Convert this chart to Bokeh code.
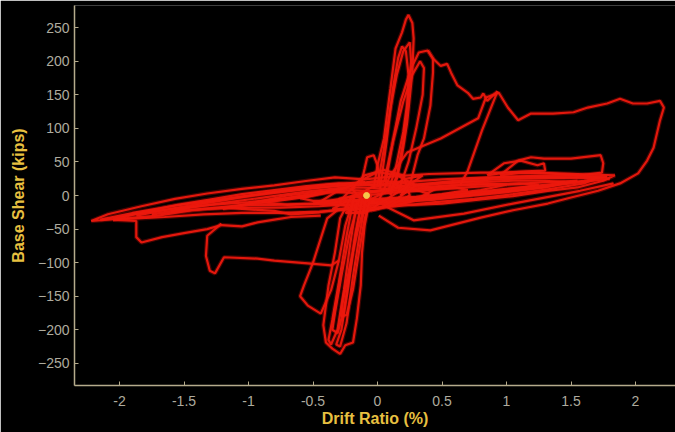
from bokeh.plotting import figure
from bokeh.models import Range1d, FixedTicker, ColumnDataSource
from bokeh.embed import file_html
from bokeh.resources import INLINE

# Hysteresis record: drift ratio (%) vs base shear (kips), one list pair per cycle.

# long low-force cycles forming the horizontal band
band_a_x = [-2.22, -2.09, -1.96, -1.83, -1.57, -1.32, -1.05, -0.80, -0.54, -0.33, -0.10, 0.10, 0.40, 0.80, 1.20, 1.55, 1.84,
            1.75, 1.55, 1.32, 1.05, 0.80, 0.50, 0.28, 0.05, -0.20, -0.45, -0.67, -0.80, -1.05, -1.19, -1.44, -1.70, -1.96, -2.22]
band_a_y = [-38, -28, -22, -16, -5, 3, 10, 15, 22, 27, 24, 28, 32, 34, 34, 32, 30,
            22, 12, 7, -1, -6, -12, -14, -12, -18, -25, -28, -23, -20, -18, -22, -30, -34, -38]

band_b_x = [-2.05, -1.80, -1.55, -1.30, -1.05, -0.80, -0.55, -0.30, -0.05, 0.20, 0.50, 0.85, 1.20, 1.50, 1.70,
            1.60, 1.35, 1.05, 0.75, 0.45, 0.15, -0.15, -0.45, -0.75, -1.05, -1.35, -1.65, -2.05]
band_b_y = [-36, -24, -14, -6, 2, 8, 14, 18, 16, 20, 24, 27, 28, 27, 26,
            18, 10, 2, -5, -10, -16, -20, -24, -26, -26, -28, -32, -36]

band_c_x = [-1.60, -1.35, -1.10, -0.85, -0.60, -0.35, -0.10, 0.15, 0.45, 0.75, 1.05, 1.30, 1.45,
            1.30, 1.05, 0.75, 0.45, 0.15, -0.15, -0.45, -0.75, -1.05, -1.35, -1.60]
band_c_y = [-24, -12, -4, 4, 10, 14, 16, 14, 18, 20, 22, 22, 20,
            12, 6, 0, -6, -10, -12, -16, -18, -18, -20, -24]

band_d_x = [-0.90, -0.65, -0.40, -0.15, 0.10, 0.35, 0.60, 0.85, 1.00, 0.80, 0.55, 0.30, 0.05, -0.20, -0.45, -0.70, -0.90]
band_d_y = [-10, -2, 6, 12, 10, 12, 16, 18, 16, 8, 2, -4, -8, -10, -12, -14, -10]

band_e_x = [-1.20, -0.95, -0.70, -0.45, -0.20, 0.05, 0.30, 0.55, 0.80, 1.10, 1.25, 1.00, 0.70, 0.40, 0.10, -0.20, -0.50, -0.80, -1.00, -1.20]
band_e_y = [-20, -10, 0, 6, 4, 6, 10, 14, 16, 18, 16, 8, 2, -2, -6, -8, -12, -14, -14, -20]

band_f_x = [-1.87, -1.60, -1.32, -1.05, -0.80, -0.54, -0.33, -0.15, 0.05]
band_f_y = [-30, -20, -10, -2, 4, 10, 14, 18, 20]

band_g_x = [-0.60, -0.40, -0.20, 0.00, 0.20, 0.40, 0.60, 0.70, 0.50, 0.30, 0.10, -0.10, -0.30, -0.50, -0.60]
band_g_y = [-4, 4, 8, 6, 8, 10, 12, 8, 2, -2, -4, -6, -8, -8, -4]

band_h_x = [-0.30, 0.10, 0.50, 0.90, 1.30, 1.70, 1.80, 1.50, 1.10, 0.70, 0.30, -0.10, -0.30]
band_h_y = [-5, 10, 18, 24, 26, 27, 25, 18, 10, 2, -6, -10, -5]

band_i_x = [-0.20, 0.20, 0.60, 1.00, 1.40, 1.78, 1.60, 1.20, 0.80, 0.40, 0.00, -0.20]
band_i_y = [0, 14, 22, 28, 30, 28, 22, 14, 6, -4, -10, 0]

band_j_x = [-0.50, -0.20, 0.10, 0.40, 0.70, 1.00, 1.30, 1.55, 1.35, 1.00, 0.60, 0.20, -0.20, -0.50]
band_j_y = [-12, -2, 4, 8, 12, 16, 20, 22, 14, 6, -2, -8, -14, -12]

band_k_x = [-2.15, -1.90, -1.60, -1.30, -1.00, -0.70, -0.40, -0.10, -0.40, -0.70, -1.00, -1.30, -1.60, -1.90, -2.15]
band_k_y = [-36, -26, -16, -8, 0, 8, 16, 20, 4, -4, -10, -14, -20, -28, -36]

band_l_x = [-1.75, -1.45, -1.15, -0.85, -0.55, -0.25, -0.55, -0.85, -1.15, -1.45, -1.75]
band_l_y = [-28, -18, -10, -2, 6, 12, -2, -10, -16, -22, -28]

# small cycles about the origin
cen_a_x = [-0.45, -0.30, -0.15, 0.00, 0.15, 0.30, 0.45, 0.30, 0.15, 0.00, -0.15, -0.30, -0.45]
cen_a_y = [-10, 8, 18, 22, 20, 16, 10, -6, -14, -18, -16, -14, -10]

cen_b_x = [-0.35, -0.20, -0.05, 0.10, 0.25, 0.40, 0.25, 0.10, -0.05, -0.20, -0.35]
cen_b_y = [-20, -5, 12, 18, 12, 2, -10, -16, -22, -20, -20]

cen_c_x = [-0.25, -0.10, 0.05, 0.20, 0.35, 0.20, 0.05, -0.10, -0.25]
cen_c_y = [-26, -10, 4, 24, 30, 10, -8, -26, -26]

cen_d_x = [-0.30, -0.15, 0.00, 0.15, 0.30, 0.15, 0.00, -0.15, -0.30]
cen_d_y = [-10, 20, 35, 30, 15, -5, -20, -25, -10]

cen_e_x = [-0.20, -0.10, 0.05, 0.20, 0.25, 0.10, -0.05, -0.20]
cen_e_y = [10, 30, 38, 30, 0, -15, -22, 10]

# negative-drift excursions on the left
left_lo1_x = [-2.05, -1.87, -1.87, -1.83, -1.67, -1.50, -1.32, -1.21, -1.05, -0.93, -0.80, -0.67, -0.44]
left_lo1_y = [-36, -38, -62, -70, -62, -56, -50, -44, -46, -40, -36, -32, -30]

left_lo2_x = [-1.21, -1.32, -1.33, -1.30, -1.26, -1.19, -0.93, -0.80, -0.54, -0.36, -0.30]
left_lo2_y = [-42, -60, -90, -112, -116, -92, -94, -97, -101, -104, -97]

# steep negative-shear cycles below the origin
low_loop_x = [-0.30, -0.39, -0.50, -0.57, -0.60, -0.54, -0.44, -0.36, -0.30, -0.25, -0.19]
low_loop_y = [-20, -34, -100, -134, -150, -164, -176, -141, -97, -45, -7]

low_sp1_x = [-0.20, -0.29, -0.33, -0.38, -0.42, -0.40, -0.35, -0.29, -0.25, -0.19, -0.16, -0.13, -0.12, -0.10, -0.06]
low_sp1_y = [0, -34, -85, -134, -193, -219, -228, -236, -223, -219, -183, -134, -85, -45, -5]

low_sp2_x = [-0.14, -0.22, -0.28, -0.33, -0.35, -0.31, -0.26, -0.21, -0.17, -0.12]
low_sp2_y = [-5, -60, -120, -175, -200, -205, -170, -110, -55, -8]

low_sp3_x = [-0.08, -0.15, -0.22, -0.27, -0.28, -0.24, -0.19, -0.14, -0.10, -0.05]
low_sp3_y = [0, -50, -110, -160, -180, -178, -140, -80, -35, 0]

low_sp4_x = [-0.18, -0.24, -0.30, -0.35, -0.38, -0.36, -0.31, -0.26, -0.21, -0.16]
low_sp4_y = [0, -60, -130, -185, -215, -222, -200, -140, -70, -10]

low_sp5_x = [-0.12, -0.18, -0.23, -0.28, -0.32, -0.29, -0.24, -0.19, -0.14, -0.09]
low_sp5_y = [-5, -70, -140, -200, -222, -225, -190, -120, -60, -5]

# steep positive-shear cycles above the origin
up_a_x = [-0.03, 0.00, 0.05, 0.10, 0.14, 0.19, 0.22, 0.24, 0.27, 0.28, 0.27, 0.23, 0.19, 0.15, 0.10]
up_a_y = [10, 45, 85, 159, 219, 243, 262, 269, 257, 234, 183, 109, 60, 25, 0]

up_c_x = [0.02, 0.07, 0.12, 0.16, 0.19, 0.22, 0.24, 0.23, 0.20, 0.15, 0.10]
up_c_y = [10, 80, 160, 205, 222, 215, 180, 130, 80, 30, 5]

up_d_x = [0.00, 0.05, 0.10, 0.15, 0.20, 0.25, 0.26, 0.24, 0.20, 0.14, 0.08]
up_d_y = [15, 70, 130, 180, 215, 228, 200, 150, 95, 40, 5]

up_e_x = [0.05, 0.12, 0.20, 0.27, 0.33, 0.36, 0.35, 0.30, 0.24, 0.16]
up_e_y = [20, 80, 140, 180, 200, 190, 150, 100, 50, 5]

up_b_x = [0.06, 0.12, 0.18, 0.26, 0.32, 0.39, 0.43, 0.43, 0.41, 0.36, 0.31, 0.26, 0.18]
up_b_y = [15, 82, 141, 189, 213, 216, 204, 183, 134, 85, 60, 22, 0]

bump_x = [-0.13, -0.10, -0.08, -0.03, 0.00, 0.02]
bump_y = [15, 40, 57, 60, 45, 15]

# softening envelope and the large positive-drift cycle
env_x = [0.39, 0.43, 0.49, 0.54, 0.57, 0.62, 0.70, 0.74, 0.80, 0.82, 0.85, 0.93, 0.81, 0.70, 0.64]
env_y = [216, 204, 193, 196, 183, 164, 153, 144, 146, 152, 141, 155, 97, 37, 15]

right_big_x = [0.01, 0.10, 0.23, 0.49, 0.78, 0.84, 0.94, 1.01, 1.09, 1.19, 1.36, 1.52, 1.63, 1.78, 1.88, 1.98, 2.09, 2.19, 2.22,
               2.19, 2.14, 2.09, 2.02, 1.88, 1.71, 1.50, 1.32, 1.05, 0.80, 0.41, 0.16, 0.01]
right_big_y = [-7, 30, 64, 85, 115, 146, 153, 131, 112, 122, 122, 124, 131, 137, 144, 137, 137, 141, 131,
               112, 71, 52, 33, 18, 7, -3, -12, -22, -33, -52, -48, -30]

small_r1_x = [0.95, 1.09, 1.19, 1.29, 1.50, 1.73, 1.75, 1.74, 1.57, 1.32, 1.11, 0.95]
small_r1_y = [30, 52, 57, 55, 55, 60, 48, 34, 30, 33, 34, 30]

small_r2_x = [0.85, 0.98, 1.11, 1.24, 1.29, 1.30, 1.15, 0.98, 0.85]
small_r2_y = [30, 48, 52, 45, 48, 37, 36, 34, 30]

low_r_x = [0.05, 0.28, 0.67, 1.05, 1.57, 1.83]
low_r_y = [-15, -37, -27, -12, 7, 18]

# current state marker
dot_x = [-0.085]
dot_y = [0]

x_ticks = [-2, -1.5, -1, -0.5, 0, 0.5, 1, 1.5, 2]
x_tick_labels = ["-2", "-1.5", "-1", "-0.5", "0", "0.5", "1", "1.5", "2"]
y_ticks = [-250, -200, -150, -100, -50, 0, 50, 100, 150, 200, 250]

traces = [
    (band_a_x, band_a_y), (band_b_x, band_b_y), (band_c_x, band_c_y), (band_d_x, band_d_y),
    (band_e_x, band_e_y), (band_f_x, band_f_y), (band_g_x, band_g_y), (band_h_x, band_h_y),
    (band_i_x, band_i_y), (band_j_x, band_j_y), (band_k_x, band_k_y), (band_l_x, band_l_y),
    (cen_a_x, cen_a_y), (cen_b_x, cen_b_y), (cen_c_x, cen_c_y), (cen_d_x, cen_d_y), (cen_e_x, cen_e_y),
    (left_lo1_x, left_lo1_y), (left_lo2_x, left_lo2_y),
    (low_loop_x, low_loop_y), (low_sp1_x, low_sp1_y), (low_sp2_x, low_sp2_y), (low_sp3_x, low_sp3_y),
    (low_sp4_x, low_sp4_y), (low_sp5_x, low_sp5_y),
    (up_a_x, up_a_y), (up_c_x, up_c_y), (up_d_x, up_d_y), (up_e_x, up_e_y), (up_b_x, up_b_y), (bump_x, bump_y),
    (env_x, env_y), (right_big_x, right_big_y), (small_r1_x, small_r1_y), (small_r2_x, small_r2_y),
    (low_r_x, low_r_y),
]

src = ColumnDataSource(data=dict(xs=[t[0] for t in traces], ys=[t[1] for t in traces]))

p = figure(width=675, height=432, output_backend="svg", toolbar_location=None,
           x_range=Range1d(-2.349, 2.31), y_range=Range1d(-283, 283),
           min_border_left=74, min_border_right=0, min_border_top=5, min_border_bottom=47)

p.background_fill_color = "black"
p.border_fill_color = "black"
p.outline_line_color = None
p.grid.visible = False

# soft halo under the trace, then the trace itself
p.multi_line(xs="xs", ys="ys", source=src, line_color="#d0100a", line_width=4.5, line_alpha=0.3)
p.multi_line(xs="xs", ys="ys", source=src, line_color="#ec180d", line_width=2.2, line_alpha=0.95)
p.scatter(dot_x, dot_y, size=6, color="#f6c84a")

axis_col = "#b5ab8c"
for ax in (p.xaxis[0], p.yaxis[0]):
    ax.axis_line_color = axis_col
    ax.axis_line_width = 1.5
    ax.major_tick_line_color = axis_col
    ax.major_tick_in = 4
    ax.major_tick_out = 0
    ax.minor_tick_line_color = None
    ax.major_label_text_color = "#aeab9e"
    ax.major_label_text_font = "Liberation Sans"
    ax.major_label_text_font_size = "14px"
    ax.axis_label_text_color = "#e8c040"
    ax.axis_label_text_font = "Liberation Sans"
    ax.axis_label_text_font_style = "bold"
    ax.axis_label_text_font_size = "16px"

p.xaxis.ticker = FixedTicker(ticks=x_ticks)
p.xaxis.major_label_overrides = {t: s for t, s in zip(x_ticks, x_tick_labels)}
p.xaxis.axis_label = "Drift Ratio (%)"
p.xaxis.major_label_standoff = 10
p.xaxis.axis_label_standoff = 1

p.yaxis.ticker = FixedTicker(ticks=y_ticks)
p.yaxis.axis_label = "Base Shear (kips)"
p.yaxis.major_label_standoff = 5
p.yaxis.axis_label_standoff = 8

open("out.html", "w").write(file_html(p, INLINE))
